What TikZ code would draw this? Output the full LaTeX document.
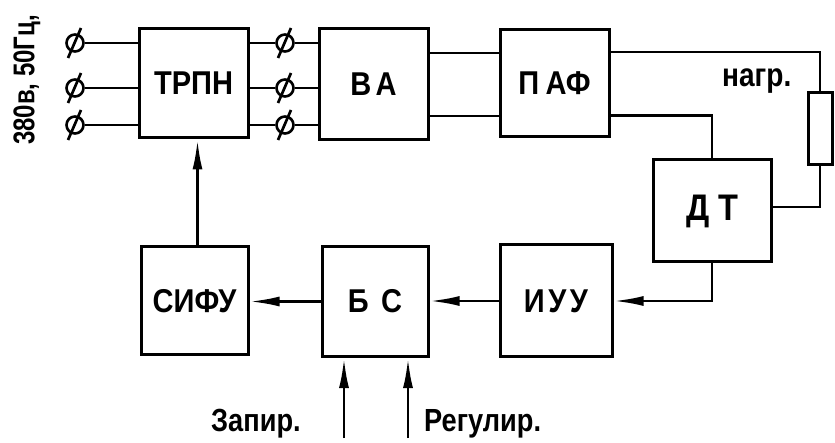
\documentclass[tikz,border=0pt]{standalone}
\usepackage{fontspec}
\usepackage{graphicx}
\setmainfont{Liberation Sans}
\usetikzlibrary{arrows.meta,calc}
\newcommand\narrowtxt[1]{\scalebox{0.88}[1]{#1}}
\begin{document}
\begin{tikzpicture}[x=1pt,y=-1pt,
  blk/.style={draw,line width=3pt,inner sep=0pt,font=\bfseries\fontsize{33}{33}\selectfont},
  wire/.style={line width=2.7pt},
  sig/.style={wire,-{Latex[length=30pt,width=10pt]}},
  term/.style={circle,draw,line width=2.6pt,minimum size=17pt,inner sep=0pt},
  lbl/.style={inner sep=0pt,font=\bfseries\fontsize{32}{32}\selectfont}
]
\useasboundingbox (0,0) rectangle (835,443);

\node[blk,minimum width=109pt,minimum height=109pt] (trpn) at (193.5,83.5) {\narrowtxt{ТРПН}};
\node[blk,minimum width=109pt,minimum height=111pt] (ba) at (373.5,84.5) {\narrowtxt{В\hspace{5pt}А}};
\node[blk,minimum width=109pt,minimum height=107pt] (paf) at (554.5,83.5) {\narrowtxt{П\hspace{7pt}АФ}};
\node[blk,minimum width=118pt,minimum height=102pt,font=\bfseries\fontsize{37}{37}\selectfont] (dt) at (712,211) {\narrowtxt{Д\hspace{10pt}Т}};
\node[blk,minimum width=112pt,minimum height=112pt] (iuu) at (556,301) {\narrowtxt{И\hspace{4pt}У\hspace{4pt}У}};
\node[blk,minimum width=106pt,minimum height=110pt] (bs) at (375,301.5) {\narrowtxt{Б\hspace{14pt}С}};
\node[blk,minimum width=107pt,minimum height=108pt] (sifu) at (194.5,301) {\narrowtxt{СИФУ}};
\node[draw,line width=3pt,minimum width=24pt,minimum height=72pt,inner sep=0pt] (r) at (820,129) {};

\foreach \i/\y in {1/43,2/88,3/125} {
  \node[term] (in\i) at (75,\y) {};
  \node[term] (out\i) at (285,\y) {};
  \draw[wire] (in\i.east) -- (in\i.east -| trpn.west);
  \draw[wire] (out\i.west -| trpn.east) -- (out\i.west);
  \draw[wire] (out\i.east) -- (out\i.east -| ba.west);
  \draw[wire] ($(in\i)+(6,-15)$) -- ($(in\i)+(-7,15)$);
  \draw[wire] ($(out\i)+(6,-15)$) -- ($(out\i)+(-7,15)$);
}

\draw[wire] ([yshift=31.5pt]ba.east) -- ([yshift=31.5pt]ba.east -| paf.west);
\draw[wire] ([yshift=-31.5pt]ba.east) -- ([yshift=-31.5pt]ba.east -| paf.west);
\draw[wire] ([yshift=31.5pt]paf.east) -| (r.north);
\draw[wire] (r.south) |- ([yshift=4pt]dt.east);
\draw[wire] ([yshift=-32pt]paf.east) -| (dt.north);
\draw[sig] (dt.south) |- (iuu.east);
\draw[sig] (iuu.west) -- (iuu.west -| bs.east);
\draw[sig] (bs.west) -- (bs.west -| sifu.east);
\draw[sig] ([xshift=3pt]sifu.north) -- ([xshift=3pt]sifu.north |- trpn.south);

\coordinate (c1) at (344,438);
\coordinate (c2) at (408,438);
\draw[sig] (c1) -- (c1 |- bs.south);
\draw[sig] (c2) -- (c2 |- bs.south);

\node[lbl,anchor=base west] (zap) at (211,431) {\scalebox{0.85}[1]{Запир.}};
\node[lbl,anchor=base west] (reg) at (424,431) {\scalebox{0.85}[1]{Регулир.}};
\node[lbl,anchor=base west,font=\bfseries\fontsize{33}{33}\selectfont] (nagr) at (722,87) {\scalebox{0.85}[1]{нагр.}};
\node[lbl,rotate=90,font=\bfseries\fontsize{30}{30}\selectfont] (volt) at (27,80) {\scalebox{0.8}[1]{380в, 50Гц,}};
\end{tikzpicture}
\end{document}
